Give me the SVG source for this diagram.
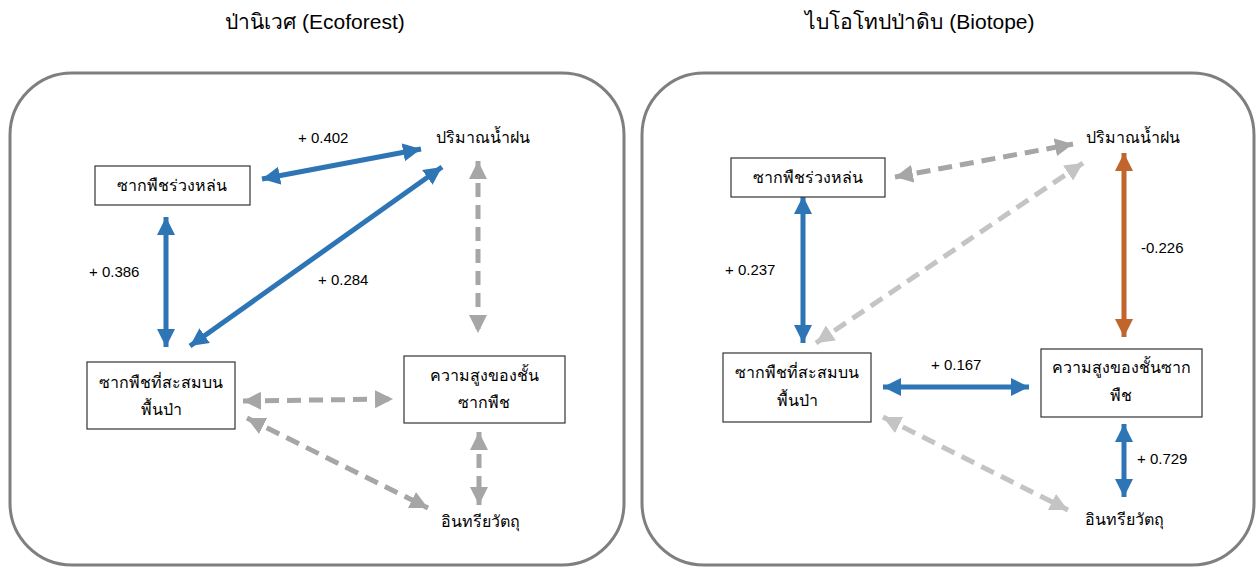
<svg xmlns="http://www.w3.org/2000/svg" width="1257" height="567" viewBox="0 0 1257 567">
<style>
text{font-family:"Liberation Sans","DejaVu Sans","Noto Sans",sans-serif;fill:#000;}
.title{font-size:21px;text-anchor:middle;}
.lbl{font-size:15px;}
.nt{font-size:16px;text-anchor:middle;}
.panel{fill:#fff;stroke:#7f7f7f;stroke-width:3;}
.box{fill:#fff;stroke:#333;stroke-width:1.2;}
.blue{stroke:#2e75b6;stroke-width:5;fill:none;}
.orange{stroke:#c0652b;stroke-width:5;fill:none;}
.gray{stroke:#a6a6a6;stroke-width:5;fill:none;stroke-dasharray:14 8;}
.lgray{stroke:#c4c4c4;stroke-width:5;fill:none;stroke-dasharray:14 8;}
</style>
<defs>
<marker id="hb" markerUnits="userSpaceOnUse" markerWidth="18" markerHeight="18" refX="16" refY="8" orient="auto-start-reverse" viewBox="0 0 16 16"><path d="M0,0 L16,8 L0,16 Z" fill="#2e75b6"/></marker>
<marker id="ho" markerUnits="userSpaceOnUse" markerWidth="18" markerHeight="18" refX="16" refY="8" orient="auto-start-reverse" viewBox="0 0 16 16"><path d="M0,0 L16,8 L0,16 Z" fill="#c0652b"/></marker>
<marker id="hg" markerUnits="userSpaceOnUse" markerWidth="18" markerHeight="18" refX="16" refY="8" orient="auto-start-reverse" viewBox="0 0 16 16"><path d="M0,0 L16,8 L0,16 Z" fill="#a6a6a6"/></marker>
<marker id="hl" markerUnits="userSpaceOnUse" markerWidth="18" markerHeight="18" refX="16" refY="8" orient="auto-start-reverse" viewBox="0 0 16 16"><path d="M0,0 L16,8 L0,16 Z" fill="#c4c4c4"/></marker>
</defs>
<rect width="1257" height="567" fill="#fff"/>
<text class="title" x="315" y="29">ป่านิเวศ (Ecoforest)</text>
<text class="title" x="920" y="29">ไบโอโทปป่าดิบ (Biotope)</text>
<g id="panel-left"><rect class="panel" x="10" y="73" width="614" height="492" rx="62"/></g>
<g id="panel-right"><rect class="panel" x="642" y="73" width="612" height="492" rx="62"/></g>
<g id="connectors">
<line class="blue" x1="262" y1="179" x2="421" y2="149" marker-start="url(#hb)" marker-end="url(#hb)"/>
<line class="blue" x1="190" y1="346" x2="442" y2="167" marker-start="url(#hb)" marker-end="url(#hb)"/>
<line class="blue" x1="166" y1="217" x2="166" y2="347" marker-start="url(#hb)" marker-end="url(#hb)"/>
<line class="gray" x1="478" y1="161" x2="478" y2="333" marker-start="url(#hg)" marker-end="url(#hg)"/>
<line class="gray" x1="243" y1="401" x2="393" y2="399" marker-start="url(#hg)" marker-end="url(#hg)"/>
<line class="gray" x1="247" y1="418" x2="428" y2="508" marker-start="url(#hg)" marker-end="url(#hg)"/>
<line class="gray" x1="479" y1="432" x2="479" y2="505" marker-start="url(#hg)" marker-end="url(#hg)"/>
<line class="gray" x1="895" y1="177" x2="1073" y2="144" marker-start="url(#hg)" marker-end="url(#hg)"/>
<line class="lgray" x1="816" y1="343" x2="1083" y2="163" marker-start="url(#hl)" marker-end="url(#hl)"/>
<line class="blue" x1="803" y1="196" x2="803" y2="343" marker-start="url(#hb)" marker-end="url(#hb)"/>
<line class="orange" x1="1124" y1="153" x2="1124" y2="337" marker-start="url(#ho)" marker-end="url(#ho)"/>
<line class="blue" x1="883" y1="387" x2="1029" y2="387" marker-start="url(#hb)" marker-end="url(#hb)"/>
<line class="blue" x1="1124" y1="424" x2="1124" y2="497" marker-start="url(#hb)" marker-end="url(#hb)"/>
<line class="lgray" x1="883" y1="417" x2="1068" y2="510" marker-start="url(#hl)" marker-end="url(#hl)"/>
</g>
<g id="lbls">
<text class="lbl" x="298" y="143">+ 0.402</text>
<text class="lbl" x="89" y="277">+ 0.386</text>
<text class="lbl" x="318" y="285">+ 0.284</text>
<text class="lbl" x="725" y="275">+ 0.237</text>
<text class="lbl" x="1141" y="253">-0.226</text>
<text class="lbl" x="931" y="370">+ 0.167</text>
<text class="lbl" x="1137" y="464">+ 0.729</text>
</g>
<g id="L-litter"><rect class="box" x="95" y="166" width="155" height="39"/><text class="nt" x="172" y="191">ซากพืชร่วงหล่น</text></g>
<g id="L-rain"><text class="nt" x="483" y="143">ปริมาณน้ำฝน</text></g>
<g id="L-floor"><rect class="box" x="87" y="362" width="148" height="67"/><text class="nt" x="161" y="388">ซากพืชที่สะสมบน</text><text class="nt" x="161" y="415">พื้นป่า</text></g>
<g id="L-height"><rect class="box" x="404" y="356" width="161" height="67"/><text class="nt" x="484" y="381">ความสูงของชั้น</text><text class="nt" x="484" y="408">ซากพืช</text></g>
<g id="L-organic"><text class="nt" x="480" y="527">อินทรียวัตถุ</text></g>
<g id="R-litter"><rect class="box" x="731" y="158" width="154" height="39"/><text class="nt" x="808" y="183">ซากพืชร่วงหล่น</text></g>
<g id="R-rain"><text class="nt" x="1133" y="143">ปริมาณน้ำฝน</text></g>
<g id="R-floor"><rect class="box" x="723" y="353" width="148" height="69"/><text class="nt" x="797" y="378">ซากพืชที่สะสมบน</text><text class="nt" x="797" y="406">พื้นป่า</text></g>
<g id="R-height"><rect class="box" x="1041" y="349" width="161" height="68"/><text class="nt" x="1121" y="373">ความสูงของชั้นซาก</text><text class="nt" x="1121" y="401">พืช</text></g>
<g id="R-organic"><text class="nt" x="1124" y="525">อินทรียวัตถุ</text></g>
</svg>
